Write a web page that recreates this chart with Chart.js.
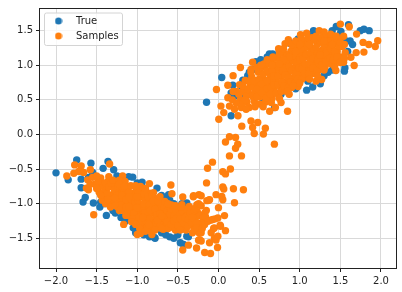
<!DOCTYPE html>
<html>
<head>
<meta charset="utf-8">
<script src="https://cdn.jsdelivr.net/npm/chart.js@4/dist/chart.umd.min.js"></script>
<style>
body { margin: 0; background: #fff; }
canvas { display: block; }
</style>
</head>
<body>
<canvas id="chart" width="402" height="292"></canvas>
<script>
const xTickValues = [-2, -1.5, -1, -0.5, 0, 0.5, 1, 1.5, 2];
const yTickValues = [-1.5, -1, -0.5, 0, 0.5, 1, 1.5];

// valores
const trueLow = [[-2,-.555],[-1.85,-.656],[-1.745,-.368],[-1.57,-.416],[-1.36,-.39],[-1.42,-.49],[-1.29,-.51],[-1.69,-.646],[-1.69,-.77],
  [-1.667,-.976],[-1.64,-.91],[-1.54,-.99],[-1.46,-1.05],[-1.38,-1.17],[-1.27,-1.135],[-1.147,-1.255],[-1.02,-1.33],[-1.02,-1.42],
  [-.79,-1.49],[-.6,-1.48],[-.47,-1.565],[-.43,-1.59],[-.39,-.99],[-.39,-1.47],[-.614,-.87],[-.757,-.775],[-1.056,-.617],[-1.105,-.61],
  [-.94,-.69],[-.78,-1.5],[-.37,-1.48],[-.41,-1.02],[-.655,-.93],[-1.6,-.62],[-1.5,-.72],[-1.4,-1.0],[-1.1,-1.2],[-.95,-1.38],[-.7,-1.42],
  [-.5,-1.45],[-.8,-1.0],[-.55,-1.0],[-1.55,-.55],[-1.25,-.6],[-1.0,-.7],
  [-1.3,-1.1],[-1.2,-1.2],[-1.05,-1.35],[-.92,-1.45],[-.85,-1.48],[-.65,-1.45],[-.55,-1.5],[-1.45,-.98],[-.6,-.95],[-.45,-1.0],[-1.2,-.65],[-.9,-.78],[-.7,-.88]];
const trueHigh = [[.04,.824],[-.147,.465],[1.45,1.56],[1.6,1.585],[1.745,1.5],[1.79,1.52],[1.855,1.5],[1.17,1.5],[1.14,1.39],[1.29,1.37],
  [1.507,1.49],[1.55,1.37],[1.59,1.2],[1.55,.915],[1.556,.96],[1.253,.733],[1.16,.685],[1.085,.64],[1.1,.77],[.77,.58],[.69,.39],[.156,.27],
  [.176,.71],[.3,.785],[.156,.6],[.2,.555],[.32,.58],[.44,.94],[.52,1.08],[.627,1.164],[.667,1.164],[.89,1.31],[.46,1.05],[1.65,1.3],
  [1.4,.93],[1.45,1.08],[1.3,.85],[.95,.66],[.55,.5],[.36,.85],
  [1.25,.8],[1.35,.9],[1.5,1.45],[1.62,1.35],[.98,1.38],[1.15,1.45],[1.4,1.5],[.6,1.12],[.75,1.2],[.28,.7],[.38,.9]];

const samplesLow = [[-1.867,-.6],[-1.77,-.44],[-1.69,-.455],[-1.78,-.56],[-1.72,-.535],[-1.66,-.55],[-1.577,-.51],[-1.61,-.656],[-1.626,-.775],
  [-1.6,-.8],[-1.536,-1.16],[-1.34,-.426],[-1.35,-.61],[-1.45,-.63],[-1.18,-.6],[-.85,-.71],[-.96,-.75],[-.586,-.73],[-.573,-.857],[-.44,-.905],
  [-.307,-.886],[-.24,-.87],[-.45,-1.015],[-.266,-1.015],[-1.167,-1.3],[-1.0,-1.445],[-.82,-1.445],[-.44,-1.67],[-.37,-1.6],[-.27,-1.64],[-.233,-1.52],
  [-.96,-1.43],[-.676,-1.36],[-.53,-1.38],
  [-1.52,-.72],[-1.47,-.83],[-1.44,-.72],[-1.41,-.92],[-1.38,-.8],[-1.36,-.68],[-1.33,-.98],[-1.31,-.87],[-1.29,-.75],[-1.26,-.68],[-1.24,-1.05],
  [-1.23,-.93],[-1.21,-.82],[-1.18,-.71],[-1.17,-1.1],[-1.15,-1],[-1.13,-.89],[-1.12,-.77],[-1.09,-1.18],[-1.07,-1.06],[-1.05,-.95],[-1.03,-.84],
  [-1.01,-.8],[-1,-1.24],[-.98,-1.13],[-.97,-1.01],[-.95,-.9],[-.93,-.8],[-.92,-1.32],[-.9,-1.2],[-.88,-1.08],[-.87,-.97],[-.85,-.85],[-.84,-1.38],
  [-.82,-1.26],[-.8,-1.14],[-.79,-1.03],[-.77,-.93],[-.75,-1.34],[-.73,-1.22],[-.71,-1.1],[-.7,-.98],[-.68,-1.37],[-.66,-1.28],[-.64,-1.17],[-.62,-1.05],
  [-.6,-1.34],[-.58,-1.24],[-.56,-1.12],[-.54,-1.36],[-.52,-1.28],[-.5,-1.18],[-.48,-1.08],[-.46,-1.32],[-.44,-1.23],[-.42,-1.13],[-.4,-1.38],
  [-.38,-1.28],[-.36,-1.18],[-.34,-1.08],[-.32,-1.42],[-.3,-1.33],[-.28,-1.2],[-.26,-1.12],[-.24,-1.42],[-.22,-1.28],
  [-1.4,-.76],[-1.34,-.9],[-1.27,-.82],[-1.2,-.95],[-1.16,-.83],[-1.1,-.98],[-1.06,-.88],[-1.02,-1.12],[-.94,-1.05],[-.9,-.94],[-.86,-1.16],
  [-.83,-1.04],[-.78,-1.22],[-.74,-1.05],[-.69,-1.28],[-.65,-1.1],[-.61,-1.2],[-.57,-1.3],[-.53,-1.14],[-.49,-1.26],[-.43,-1.34]];

const samplesLowCore = [[-1.46,-.74],[-1.42,-.84],[-1.39,-.7],[-1.37,-.86],[-1.35,-.76],[-1.32,-.7],[-1.3,-.94],[-1.28,-.8],[-1.25,-.98],[-1.25,-.88],
  [-1.24,-.75],[-1.2,-1.02],[-1.19,-.88],[-1.18,-.77],[-1.14,-1.05],[-1.14,-.94],[-1.1,-.83],[-1.11,-1.12],[-1.08,-.93],[-1.04,-1.14],[-1.03,-1],
  [-1.04,-.9],[-1.05,-1.22],[-.99,-.85],[-.99,-.95],[-.98,-1.2],[-.96,-1.07],[-.95,-1.28],[-.92,-.86],[-.92,-1],[-.91,-1.13],[-.89,-1.26],[-.88,-1.35],
  [-.87,-.9],[-.85,-1.02],[-.85,-1.22],[-.84,-1.1],[-.82,-.88],[-.81,-1.32],[-.8,-.97],[-.78,-1.08],[-.77,-1.28],[-.76,-1.16],[-.74,-.97],[-.72,-1.3],
  [-.72,-1.15],[-.7,-1.04],[-.67,-1.05],[-.67,-1.2],[-.66,-1.34],[-.63,-1.1],[-.63,-1.26],[-.62,-1.36],[-.6,-1.15],[-.59,-1.07],[-.58,-1.3],[-.55,-1.18],
  [-.55,-1.25],[-.52,-1.1],[-.52,-1.22],[-.5,-1.32],[-.47,-1.15],[-.47,-1.22],[-.47,-1.38],[-.45,-1.1],[-.43,-1.28],[-.41,-1.2],[-.39,-1.08],[-.38,-1.33],
  [-.37,-1.23],[-.35,-1.13],[-.33,-1.27],[-.32,-1.2],[-.3,-1.1],[-.3,-1.38],[-.27,-1.28],[-.27,-1.35],
  [-1.48,-.68],[-1.43,-.95],[-1.39,-1],[-1.33,-1.05],[-1.3,-.66],[-1.27,-1.03],[-1.22,-.66],[-1.22,-1.1],[-1.15,-.68],[-1.14,-1.17],[-1.08,-.74],
  [-1.07,-1.26],[-1.02,-.74],[-1.02,-1.3],[-.97,-1.36],[-.9,-.78],[-.9,-1.4],[-.8,-.84],[-.78,-1.38],[-.72,-.9],[-.7,-1.36],[-.66,-.97],[-.58,-1.02],
  [-.53,-1.03],[-.46,-1.05],[-.36,-1.04],[-1.5,-.78],[-1.45,-.88],[-1.36,-.94],[-1.28,-.92],[-1.22,-.72],[-1.16,-.75],[-1.1,-.9],[-1.1,-1.05],[-1,-1.06],
  [-1,-.9],[-.93,-1.2],[-.86,-1.3],[-.75,-1.24],[-.7,-1.18],[-.62,-1],[-1.55,-.62],[-1.5,-.6],[-1.58,-.72]];

const samplesBridge = [[-.31,-.9],[-.287,-1.07],[-.245,-1],[-.245,-1.53],[-.225,-1.17],[-.213,-.886],[-.213,-1.03],[-.213,-1.42],[-.213,-1.54],
  [-.2,-1.36],[-.19,-1.206],[-.18,-1.27],[-.17,-1.135],[-.17,-1.3],[-.17,-1.705],[-.16,-1.19],[-.15,-1.1],[-.147,-.7],[-.143,-.957],[-.135,-.488],
  [-.13,-1.255],[-.12,-.95],[-.11,-.943],[-.11,-1.565],[-.1,-1.24],[-.098,-1.72],[-.09,-1.42],[-.074,-.4],[-.07,-1.23],[-.06,-1.36],[-.05,-1.35],
  [-.05,-1.5],[-.04,-1.22],[-.03,-.87],[-.03,-1.527],[-.012,-1.633],[-.008,-1.206],[-.008,-1.47],[0,-1.058],[.02,-1.31],[.025,-1.326],[.04,-.895],
  [.053,-.54],[.053,-.76],[.053,-.943],[.065,-.79],[.074,-1.173],[.086,-.57],[.086,-1.39],[.135,-.31],[.147,-.5],[.184,-.785],[.197,-.986],
  [.21,-.2],[.283,-.31],[.307,-.8],[.688,-.14],[.237,-.14],[.086,-.11],[.21,-.043],[.135,-.034]];

const samplesHigh = [[1.5,1.595],[1.61,1.557],[1.7,1.45],[1.96,1.355],[1.93,1.27],[1.85,1.3],[1.78,1.33],[1.79,1.19],[1.695,1.183],[1.63,1.116],
  [1.67,.996],[1.54,1.044],[1.445,.924],[1.27,.795],[1.2,.77],[.98,.694],[.87,.58],[.77,.46],[.85,.335],[.7,.39],[.63,.335],[.27,.967],[.18,.85],
  [.115,.71],[-.025,.65],[.42,1.044],[.4,.94],[.74,1.24],[.86,1.37],[.82,1.31],[1.01,1.44],[1.085,1.465],[1.24,1.5],[1.3,1.48],[1.425,1.42],[1.54,1.42],
  [.115,.53],[.03,.41],[.065,.316],[.004,.22],[.24,.27],[.38,.39],[.28,.39],[.34,.364],[.135,.41],[.197,.364],[.287,.12],[.4,.196],[.483,.172],[.42,.1],
  [.44,.014],[.577,.09],[.553,.005],
  [.22,.62],[.26,.72],[.27,.5],[.3,.62],[.33,.78],[.35,.47],[.38,.58],[.39,.7],[.41,.83],[.44,.48],[.45,.62],[.47,.74],[.49,.9],[.51,.44],[.52,.55],
  [.54,.67],[.55,.8],[.57,.97],[.58,.47],[.6,.6],[.62,.73],[.63,.87],[.65,1.04],[.66,.52],[.68,.65],[.7,.78],[.71,.93],[.73,1.1],[.74,.57],[.76,.69],
  [.78,.84],[.79,1],[.81,1.17],[.82,.63],[.84,.76],[.86,.9],[.88,1.06],[.89,1.2],[.9,.68],[.92,.82],[.94,.97],[.96,1.12],[.97,1.28],[.99,.74],
  [1.01,.88],[1.03,1.03],[1.05,1.18],[1.06,1.34],[1.08,.83],[1.1,.96],[1.12,1.1],[1.14,1.25],[1.15,1.4],[1.17,.88],[1.19,1.02],[1.2,1.16],[1.22,1.31],
  [1.24,.94],[1.26,1.08],[1.28,1.22],[1.29,1.38],[1.31,.97],[1.33,1.12],[1.35,1.27],[1.36,1.42],[1.38,1.02],[1.4,1.16],[1.42,1.3],[1.44,1.06],
  [1.46,1.2],[1.48,1.36],[1.5,1.12],[1.52,1.27],[1.56,1.18],[1.43,.98],[.58,.7],[.66,.8],[.74,.9],[.83,.96],[.91,1.06],[.99,1.16],[1.07,1.26],[1.13,.92],[1.23,1.02]];

const samplesHighCore = [[.3,.7],[.34,.55],[.36,.65],[.38,.77],[.42,.55],[.43,.68],[.44,.78],[.47,.54],[.48,.66],[.5,.8],[.51,.92],[.53,.6],[.53,.73],
  [.55,.87],[.56,1.02],[.59,.53],[.6,.66],[.6,.78],[.6,.92],[.62,1.02],[.64,.58],[.65,.68],[.66,.93],[.68,.72],[.68,.85],[.69,1],[.7,1.1],[.71,.6],
  [.73,.72],[.73,.84],[.74,.98],[.76,1.08],[.77,.62],[.78,.76],[.79,.92],[.81,.7],[.82,.86],[.83,1.06],[.84,1.14],[.86,.68],[.86,.82],[.87,.98],[.89,.76],
  [.9,.92],[.91,1.14],[.92,1.24],[.94,.74],[.95,.88],[.96,1.04],[.97,.8],[.99,.96],[1,1.08],[1.01,1.24],[1.03,.8],[1.03,.95],[1.04,1.1],[1.06,.88],
  [1.07,1.02],[1.08,1.16],[1.1,1.32],[1.11,.88],[1.12,1.02],[1.13,1.18],[1.16,.96],[1.16,1.1],[1.17,1.24],[1.18,1.36],[1.21,.92],[1.22,1.08],[1.23,1.2],
  [1.25,1.34],[1.27,1],[1.28,1.15],[1.3,1.28],[1.32,1.05],[1.33,1.2],[1.34,1.35],[1.37,1.1],[1.38,1.24],[1.39,1.36],[1.41,1.08],[1.43,1.2],[1.44,1.36],
  [1.46,1.12],[1.48,1.28],[1.5,1.04],[.17,.5],[.22,.45],[.3,.45],[.33,.5],[.25,.58],[.18,.62],
  [.4,.9],[.47,.97],[.52,1],[.6,1.08],[.67,1.12],[.75,1.17],[.8,1.24],[.9,1.3],[.95,1.35],[1.02,1.38],[1.1,1.4],[1.2,1.42],[1.3,1.44],[1.38,1.45],
  [1.45,1.42],[1.5,1.33],[1.55,1.3],[1.55,1.1],[1.3,.93],[1.22,.85],[1.12,.8],[1,.74],[.92,.7],[.85,.62],[.75,.52],[.65,.46],[.55,.4],[.45,.4],
  [1.25,1.4],[1.12,1.3],[1.2,1.26],[1.3,1.35],[1.4,1.3],[.95,1.2],[.87,1.12],[.8,1.08],[.75,1.02],[1,1.3],[.66,1],[1.25,1.15]];

const truePoints = trueLow.concat(trueHigh).map(p => ({ x: p[0], y: p[1] }));
const samplePoints = samplesLow.concat(samplesLowCore, samplesBridge, samplesHigh, samplesHighCore).map(p => ({ x: p[0], y: p[1] }));

// marcador da legenda: a largura da caixa fica livre para afastar o texto
function legendMarker(color) {
    const c = document.createElement("canvas");
    c.width = 8;
    c.height = 8;
    const g = c.getContext("2d");
    g.fillStyle = color;
    g.beginPath();
    g.arc(4, 4, 3.5, 0, Math.PI * 2);
    g.fill();
    return c;
}

const frame = {
    id: "frame",
    afterLayout(chart) {
        // legenda dentro da área, com caixa como a do matplotlib
        const l = chart.legend;
        l.left = 41;
        l.right = 122;
        l.top = 11;
        l.bottom = 80;
        if (!l._boxed) {
            l._boxed = true;
            const draw = l.draw;
            l.draw = function () {
                const ctx = chart.ctx;
                ctx.save();
                ctx.beginPath();
                ctx.roundRect(44.5, 13, 78, 32.5, 2);
                ctx.fillStyle = "rgba(255,255,255,0.8)";
                ctx.fill();
                ctx.strokeStyle = "#d4d4d4";
                ctx.lineWidth = 1;
                ctx.stroke();
                ctx.restore();
                draw.call(this);
            };
        }
    },
    afterDraw(chart) {
        const a = chart.chartArea;
        const ctx = chart.ctx;
        ctx.save();
        ctx.strokeStyle = "#222";
        ctx.lineWidth = 1;
        ctx.strokeRect(Math.round(a.left) - 0.5, Math.round(a.top) - 0.5, Math.round(a.right - a.left) + 1, Math.round(a.bottom - a.top) + 1);
        ctx.restore();
    }
};

const tickLabel = v => (v < 0 ? "\u2212" : "") + Math.abs(v).toFixed(1);
const font = { family: "'DejaVu Sans'", size: 10 };

new Chart(document.getElementById("chart"), {
    type: "scatter",
    data: {
        datasets: [
            { label: "True", data: truePoints, backgroundColor: "#1f77b4", order: 2 },
            { label: "Samples", data: samplePoints, backgroundColor: "#ff7f0e", order: 1 }
        ]
    },
    options: {
        responsive: false,
        animation: false,
        layout: { padding: { top: 8, right: 6, left: 0, bottom: 0 } },
        elements: { point: { radius: 3.7, borderWidth: 0, hoverRadius: 3.7 } },
        plugins: {
            tooltip: { enabled: false },
            legend: {
                position: "chartArea",
                align: "start",
                labels: {
                    font: font,
                    color: "#222",
                    usePointStyle: true,
                    pointStyleWidth: 25,
                    boxHeight: 8,
                    padding: 5,
                    generateLabels: chart => chart.data.datasets.map((d, i) => ({
                        text: d.label,
                        datasetIndex: i,
                        fontColor: "#222",
                        pointStyle: legendMarker(d.backgroundColor),
                        lineWidth: 0
                    }))
                }
            }
        },
        scales: {
            x: {
                type: "linear",
                min: -2.197,
                max: 2.185,
                afterBuildTicks: axis => { axis.ticks = xTickValues.map(v => ({ value: v })); },
                afterFit: axis => { axis.height = 24; },
                grid: { color: "#d9d9d9", tickColor: "#222", tickLength: 4, lineWidth: 1 },
                border: { display: false },
                ticks: { font: font, color: "#222", padding: 3, maxRotation: 0, autoSkip: false, callback: tickLabel }
            },
            y: {
                type: "linear",
                min: -1.93,
                max: 1.813,
                afterBuildTicks: axis => { axis.ticks = yTickValues.map(v => ({ value: v })); },
                afterFit: axis => { axis.width = 40; },
                grid: { color: "#d9d9d9", tickColor: "#222", tickLength: 4, lineWidth: 1 },
                border: { display: false },
                ticks: { font: font, color: "#222", padding: 3, autoSkip: false, callback: tickLabel }
            }
        }
    },
    plugins: [frame]
});
</script>
</body>
</html>
